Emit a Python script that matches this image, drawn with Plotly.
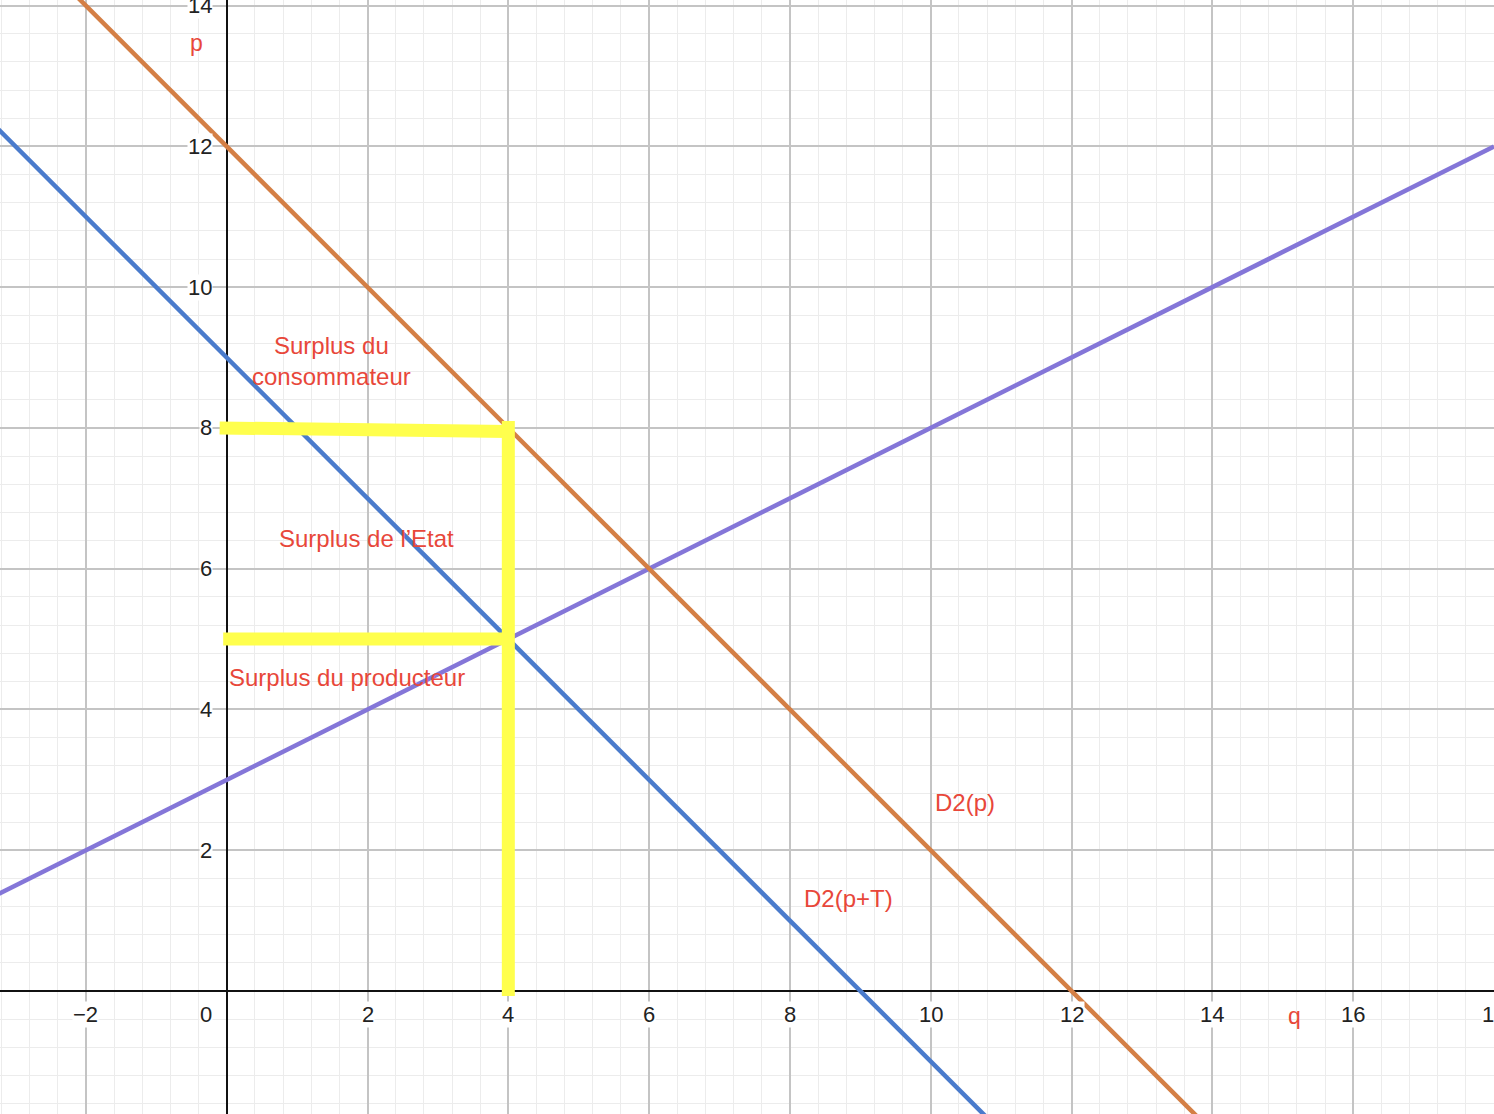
import plotly.graph_objects as go

# ---- data ----
q_d2 = [-4, 14]          # D2(p): p = 12 - q
p_d2 = [16, -2]
q_d2t = [-4, 11]         # D2(p+T): p = 9 - q
p_d2t = [13, -2]
q_s = [-4, 18]           # offre
p_s = [1, 12]

# yellow marks
q_top = [-0.1, 4.0]
p_top = [8.0, 7.95]
q_vert = [4.0, 4.0]
p_vert = [8.1, -0.07]
q_bot = [-0.05, 4.0]
p_bot = [5.0, 5.0]

x_ticks = [-2, 2, 4, 6, 8, 10, 12, 14, 16, 18]
y_ticks = [2, 4, 6, 8, 10, 12, 14]

labels = ["Surplus du<br>consommateur", "Surplus de l\u2019Etat", "Surplus du producteur", "D2(p)", "D2(p+T)"]
label_q = [1.49, 1.99, 1.71, 10.49, 8.83]
label_p = [8.95, 6.43, 4.45, 2.68, 1.31]

ORANGE = "#d47f45"
BLUE = "#4a7bcc"
PURPLE = "#8476d8"
YELLOW = "#ffff4d"
RED = "#e8473a"
FONT = "Liberation Sans, Arial, sans-serif"

fig = go.Figure()
fig.add_trace(go.Scatter(x=q_s, y=p_s, mode="lines", line=dict(color=PURPLE, width=4.5)))
fig.add_trace(go.Scatter(x=q_d2t, y=p_d2t, mode="lines", line=dict(color=BLUE, width=4.5)))
fig.add_trace(go.Scatter(x=q_d2, y=p_d2, mode="lines", line=dict(color=ORANGE, width=4.5)))
for qq, pp in [(q_top, p_top), (q_bot, p_bot), (q_vert, p_vert)]:
    fig.add_trace(go.Scatter(x=qq, y=pp, mode="lines", line=dict(color=YELLOW, width=13)))

ann = []
for t in x_ticks:
    ann.append(dict(x=t, y=-0.33, text=str(t).replace("-", "\u2212"), showarrow=False,
                    xanchor="center", yanchor="middle", bgcolor="white", borderpad=0,
                    font=dict(size=22, color="#222222", family=FONT)))
ann.append(dict(x=-0.2, y=-0.33, text="0", showarrow=False, xanchor="right", yanchor="middle",
                bgcolor="white", borderpad=0, font=dict(size=22, color="#222222", family=FONT)))
for t in y_ticks:
    ann.append(dict(x=-0.2, y=t, text=str(t), showarrow=False, xanchor="right", yanchor="middle",
                    bgcolor="white", borderpad=0, font=dict(size=22, color="#222222", family=FONT)))
ann.append(dict(x=15.16, y=-0.36, text="q", showarrow=False, xanchor="center", yanchor="middle",
                font=dict(size=23, color=RED, family=FONT)))
ann.append(dict(x=-0.43, y=13.47, text="p", showarrow=False, xanchor="center", yanchor="middle",
                font=dict(size=23, color=RED, family=FONT)))
for t, qx, py in zip(labels, label_q, label_p):
    ann.append(dict(x=qx, y=py, text=t, showarrow=False, xanchor="center", yanchor="middle",
                    font=dict(size=24, color=RED, family=FONT)))

axis_common = dict(showticklabels=False, ticks="", showline=False,
                   dtick=2, tick0=0, showgrid=True, gridcolor="#c4c4c4", gridwidth=1.5,
                   minor=dict(dtick=0.4, tick0=0, showgrid=True, gridcolor="#ececec", gridwidth=1),
                   zeroline=True, zerolinecolor="#111111", zerolinewidth=2)

fig.update_layout(
    width=1494, height=1114,
    margin=dict(l=0, r=0, t=0, b=0),
    paper_bgcolor="white", plot_bgcolor="white",
    showlegend=False,
    xaxis=dict(range=[-3.22, 18.0], **axis_common),
    yaxis=dict(range=[-1.747, 14.08], **axis_common),
    annotations=ann,
)

fig.write_html("out.html", config={"displayModeBar": False},
               post_script="document.body.style.margin='0';document.body.style.overflow='hidden';")
